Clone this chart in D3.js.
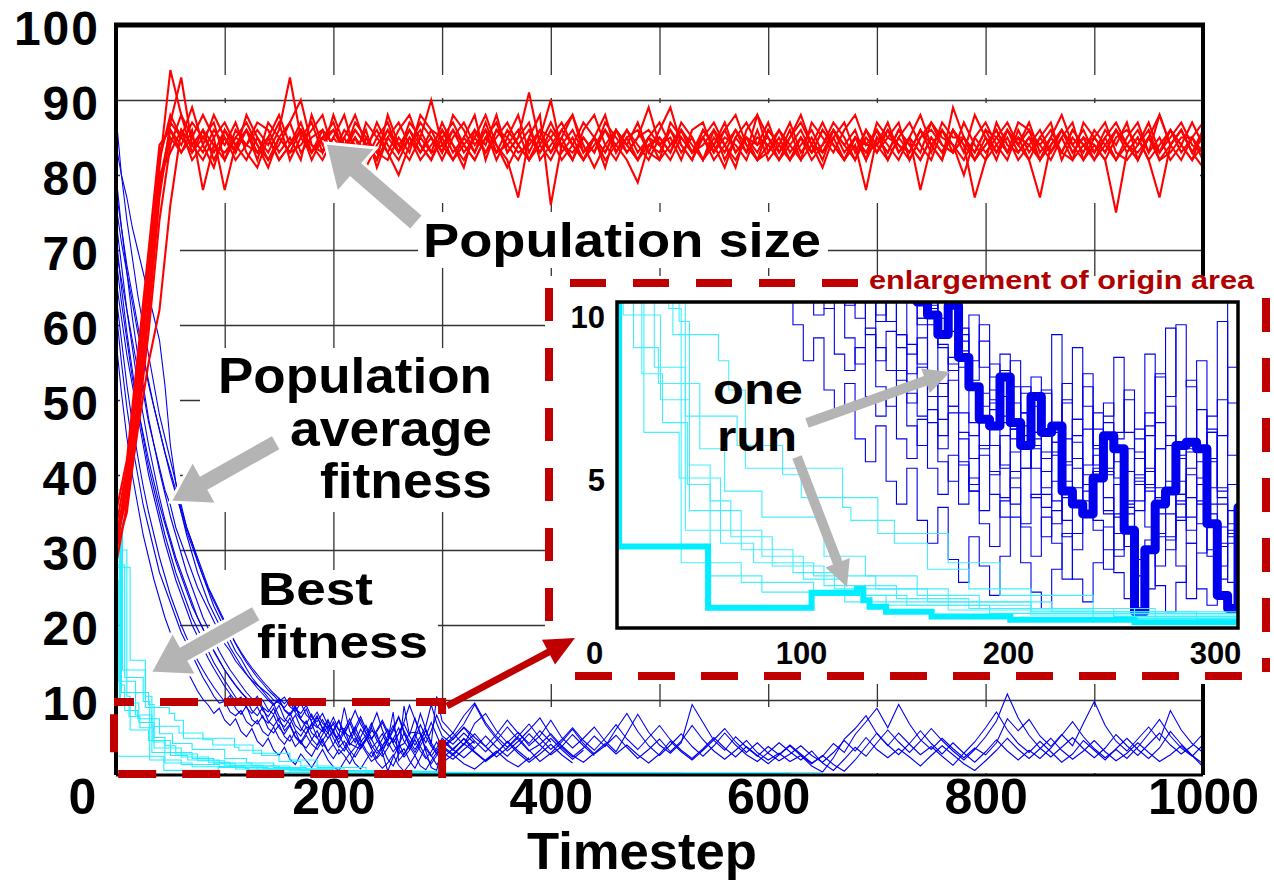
<!DOCTYPE html>
<html>
<head>
<meta charset="utf-8">
<script src="https://cdn.jsdelivr.net/npm/d3@7"></script>
<style>
body { margin: 0; background: #fff; }
svg { display: block; font-family: "Liberation Sans", Arial, Helvetica, sans-serif; font-weight: bold; }
</style>
</head>
<body>
<script>
var width = 1274, height = 884;

// sampling grids (timesteps)
var redSteps = d3.range(0, 1001, 10);
var blueSteps = d3.range(0, 300, 5).concat(d3.range(300, 1001, 10));

// population size runs, every 10 steps
var red1 = [30, 39, 52, 65, 81, 94, 88, 85, 83, 86,
  84, 87, 83, 81, 85, 88, 84, 86, 82, 85,
  87, 83, 85, 81, 84, 86, 83, 87, 85, 90,
  84, 86, 83, 85, 88, 84, 81, 84, 86, 83,
  85, 87, 84, 82, 85, 83, 86, 84, 82, 85,
  87, 84, 86, 83, 85, 82, 84, 86, 83, 85,
  84, 82, 85, 87, 84, 83, 86, 84, 82, 85,
  83, 86, 84, 82, 85, 87, 84, 83, 85, 82,
  84, 86, 83, 85, 84, 82, 85, 83, 86, 84,
  82, 85, 87, 84, 83, 85, 82, 84, 86, 83, 85];
var red2 = [33, 41, 55, 68, 83, 87, 93, 84, 86, 82,
  85, 83, 86, 84, 81, 85, 87, 83, 85, 86,
  82, 85, 88, 84, 86, 83, 80, 84, 87, 85,
  83, 86, 84, 82, 85, 87, 83, 85, 91, 84,
  82, 85, 88, 84, 81, 84, 86, 83, 85, 89,
  84, 82, 85, 83, 86, 84, 81, 85, 83, 88,
  85, 83, 86, 82, 84, 87, 84, 82, 85, 83,
  86, 84, 82, 85, 83, 87, 85, 84, 82, 85,
  83, 85, 87, 84, 86, 82, 85, 83, 86, 84,
  85, 83, 86, 84, 82, 85, 83, 86, 84, 82, 84];
var red3 = [28, 36, 48, 62, 79, 86, 84, 87, 85, 83,
  86, 84, 82, 85, 83, 86, 93, 85, 83, 86,
  84, 82, 85, 83, 87, 84, 82, 85, 83, 86,
  85, 82, 84, 86, 83, 85, 87, 84, 82, 85,
  90, 83, 85, 82, 84, 86, 83, 85, 82, 84,
  83, 86, 84, 82, 85, 83, 86, 88, 84, 82,
  86, 84, 82, 85, 83, 86, 84, 82, 85, 84,
  84, 82, 85, 83, 86, 84, 82, 89, 85, 83,
  86, 83, 85, 82, 84, 86, 83, 85, 82, 84,
  83, 85, 82, 84, 86, 83, 88, 84, 82, 85, 83];
var red4 = [31, 37, 50, 63, 78, 85, 83, 86, 78, 84,
  82, 86, 84, 83, 85, 82, 84, 86, 83, 85,
  86, 84, 81, 85, 83, 86, 84, 82, 85, 83,
  84, 82, 85, 83, 86, 84, 82, 77, 85, 83,
  86, 84, 82, 85, 83, 86, 84, 82, 79, 84,
  85, 83, 86, 84, 82, 85, 83, 86, 84, 82,
  83, 85, 82, 84, 86, 83, 85, 82, 84, 78,
  85, 83, 86, 84, 82, 85, 83, 86, 84, 77,
  82, 84, 86, 83, 85, 82, 84, 86, 83, 85,
  84, 82, 75, 83, 85, 82, 84, 86, 83, 85, 82];
var red5 = [34, 36, 46, 55, 62, 76, 86, 84, 82, 85,
  78, 84, 86, 83, 85, 82, 84, 87, 83, 85,
  83, 86, 84, 82, 85, 87, 83, 85, 82, 84,
  86, 84, 82, 85, 83, 86, 84, 82, 85, 88,
  76, 84, 86, 83, 85, 82, 84, 86, 83, 85,
  82, 84, 86, 83, 85, 87, 84, 82, 85, 83,
  86, 84, 82, 85, 83, 86, 84, 82, 85, 83,
  84, 86, 83, 85, 78, 84, 86, 83, 85, 82,
  84, 86, 83, 85, 82, 77, 84, 86, 83, 85,
  82, 84, 86, 83, 85, 82, 77, 84, 86, 83, 81];
var red6 = [29, 40, 53, 66, 82, 88, 85, 83, 86, 84,
  83, 85, 87, 84, 82, 85, 83, 86, 84, 82,
  85, 83, 86, 84, 82, 85, 83, 86, 84, 82,
  85, 87, 84, 82, 85, 83, 86, 84, 82, 85,
  83, 86, 84, 82, 85, 83, 86, 84, 82, 85,
  84, 86, 83, 85, 82, 84, 86, 83, 85, 82,
  84, 86, 83, 85, 82, 84, 86, 83, 85, 82,
  85, 83, 86, 84, 82, 85, 83, 86, 84, 82,
  85, 83, 86, 84, 82, 85, 83, 86, 84, 82,
  85, 83, 86, 84, 82, 85, 83, 86, 84, 82, 86];
var red7 = [32, 38, 49, 61, 77, 87, 85, 89, 84, 81,
  86, 83, 88, 85, 82, 84, 87, 90, 84, 83,
  85, 88, 83, 86, 81, 85, 87, 84, 86, 83,
  87, 84, 81, 86, 84, 88, 83, 85, 87, 82,
  84, 86, 88, 83, 85, 81, 86, 84, 87, 83,
  86, 89, 84, 82, 86, 84, 87, 83, 85, 84,
  87, 83, 85, 88, 84, 81, 85, 87, 83, 86,
  84, 87, 83, 85, 88, 84, 82, 86, 83, 88,
  85, 82, 86, 84, 87, 83, 85, 88, 84, 86,
  83, 86, 84, 87, 82, 85, 88, 84, 86, 83, 86];
var red8 = [30, 35, 47, 59, 74, 84, 88, 83, 85, 87,
  82, 85, 84, 87, 86, 83, 85, 82, 88, 84,
  86, 83, 87, 85, 82, 88, 84, 86, 83, 85,
  82, 85, 87, 84, 86, 82, 85, 88, 83, 86,
  85, 82, 84, 87, 85, 88, 83, 86, 84, 82,
  85, 83, 87, 85, 82, 86, 84, 81, 86, 88,
  83, 86, 84, 82, 87, 85, 83, 86, 88, 84,
  86, 82, 85, 87, 84, 82, 86, 84, 80, 85,
  87, 84, 82, 86, 83, 85, 87, 82, 85, 83,
  86, 84, 82, 85, 87, 83, 85, 82, 84, 87, 84];
var red9 = [35, 42, 56, 70, 84, 86, 83, 85, 88, 85,
  87, 84, 86, 82, 87, 85, 83, 84, 86, 88,
  83, 85, 82, 87, 85, 83, 86, 88, 84, 82,
  86, 83, 85, 88, 82, 86, 85, 83, 84, 86,
  83, 85, 82, 86, 88, 84, 82, 85, 86, 83,
  82, 87, 85, 83, 84, 86, 82, 85, 87, 84,
  85, 82, 84, 86, 83, 84, 87, 85, 82, 86,
  83, 85, 87, 82, 85, 86, 84, 83, 87, 84,
  82, 87, 84, 83, 85, 84, 86, 83, 82, 87,
  85, 87, 83, 82, 84, 87, 83, 85, 87, 84, 83];
var red10 = [31, 40, 54, 67, 80, 83, 86, 82, 84, 88,
  85, 82, 84, 86, 84, 87, 82, 85, 87, 83,
  88, 84, 86, 84, 83, 82, 85, 83, 88, 86,
  83, 88, 86, 83, 87, 83, 84, 86, 82, 84,
  87, 84, 83, 85, 83, 87, 85, 83, 85, 86,
  84, 85, 82, 86, 87, 83, 85, 84, 82, 86,
  82, 84, 87, 83, 85, 82, 86, 84, 86, 82,
  87, 85, 84, 83, 86, 83, 87, 85, 85, 83,
  86, 85, 83, 87, 86, 84, 82, 85, 87, 82,
  84, 82, 85, 86, 84, 86, 82, 83, 85, 85, 87];

// population average fitness runs: every 5 steps to 300, then every 10
var blueOne = [70, 66, 62, 58, 54, 51, 47, 44, 41, 38,
  36, 33, 31, 29, 27, 25, 23.5, 22, 20.5, 19,
  17.5, 16.5, 15.2, 14.3, 13.4, 12.6, 12.0, 11.4, 10.8, 10.0,
  9.6, 9.0, 9.9, 8.3, 7.4, 6.4, 6.2, 7.7, 6.3, 5.6,
  7.1, 6.0, 6.2, 4.2, 3.8, 3.5, 4.6, 5.9, 5.5, 3.0,
  0.5, 2.4, 3.8, 4.2, 5.6, 5.7, 5.5, 3.2, 1.0, 0.6,
  3.7,
  2.6, 4.1, 5.5, 3.8, 2.4, 3.6, 5.0, 3.3, 1.8, 2.9,
  4.4, 6.1, 4.2, 2.8, 3.9, 5.3, 3.7, 2.2, 3.4, 4.8,
  3.1, 4.5, 6.6, 4.7, 3.2, 2.1, 3.3, 4.6, 3.0, 2.0,
  2.9, 1.8, 2.6, 1.2, 0.4, 2.3, 4.8, 6.2, 7.9, 5.5,
  3.9, 5.6, 4.1, 2.7, 3.8, 2.5, 1.3, 2.9, 4.4, 6.3,
  8.4, 6.0, 4.2, 3.0, 4.5, 3.1, 1.7, 2.8, 4.6, 3.3,
  2.0, 3.5, 4.9, 3.4, 2.2, 3.6, 5.8, 4.1, 2.6, 1.5];
var blue1 = [62, 55, 49, 44, 40, 36, 33, 30, 27, 25,
  23, 21, 19, 17.5, 16, 14.5, 13, 11.8, 10.5, 9.6,
  9.8, 8.4, 7.9, 8.6, 7.1, 6.5, 7.3, 5.8, 5.2, 6.4,
  4.9, 4.1, 5.3, 3.8, 4.6, 3.2, 2.5, 3.9, 4.8, 3.1,
  2.2, 3.4, 2.6, 1.5, 2.9, 4.2, 3.0, 1.8, 2.4, 3.7,
  2.1, 1.2, 2.8, 3.5, 1.9, 0.9, 2.3, 3.8, 2.6, 1.4,
  2.2,
  3.5, 4.8, 3.1, 1.9, 3.0, 4.4, 2.9, 1.7, 2.8, 4.1, 2.7, 1.6];
var blue2 = [88, 80, 74, 69, 64, 60, 56, 52, 48, 45,
  42, 39, 36, 33, 31, 28.5, 26.5, 24.5, 22.5, 21,
  19.5, 18, 16.5, 15.5, 14.2, 13.0, 12.1, 11.2, 10.3, 9.5,
  9.9, 8.7, 8.1, 9.2, 7.6, 8.8, 7.0, 6.3, 7.4, 5.9,
  6.8, 5.2, 9.0, 5.8, 4.3, 6.1, 5.0, 3.6, 4.4, 5.5,
  3.9, 4.8, 6.3, 4.5, 3.4, 4.9, 6.7, 5.1, 3.8, 2.9,
  4.2,
  5.6, 4.0, 6.9, 8.2, 5.9, 4.3, 5.7, 3.9, 5.2, 7.3,
  5.0, 3.6, 4.9, 6.4, 4.5, 3.1, 5.6, 8.1, 5.7, 4.0,
  2.9, 4.3, 9.4, 7.0, 4.6, 3.3, 5.1, 3.7, 2.5, 3.8,
  2.7, 4.0, 2.8, 1.6, 2.5, 4.2, 3.0, 5.4, 7.1, 8.9,
  6.3, 9.4, 6.8, 4.7, 3.4, 4.9, 3.5, 2.3, 3.6, 2.7,
  4.3, 7.5, 5.9, 7.4, 5.2, 3.8, 5.4, 3.9, 6.9, 9.8,
  6.6, 4.5, 3.2, 4.8, 6.4, 4.6, 8.6, 6.0, 4.2, 3.0];
var blue3 = [72, 65, 59, 54, 49, 45, 41, 38, 35, 32,
  29.5, 27, 25, 23, 21, 19.5, 18, 16.5, 15, 13.8,
  12.6, 11.5, 10.4, 9.5, 10.1, 8.6, 7.9, 9.0, 7.2, 6.5,
  7.6, 5.9, 6.8, 5.1, 4.4, 5.6, 6.9, 5.0, 3.8, 4.9,
  6.0, 4.1, 3.2, 4.5, 5.9, 7.4, 5.6, 4.0, 2.9, 3.8,
  5.2, 6.6, 4.3, 2.7, 3.9, 5.4, 8.2, 6.1, 4.0, 2.8,
  3.5,
  4.8, 6.3, 4.5, 3.1, 4.6, 6.4, 4.7, 3.2, 4.1, 5.5,
  3.9, 2.6, 1.7, 2.9, 4.2, 2.8, 4.0, 2.7, 1.6, 2.8,
  4.5, 3.1, 2.0, 3.3, 4.7, 6.2, 4.4, 3.0, 4.3, 2.9,
  1.9, 2.8, 3.9, 2.6, 1.7, 3.0, 4.6, 3.2, 5.0, 3.4,
  2.3, 3.5, 2.4, 1.2, 2.6, 3.9, 2.7, 1.5, 0.6, 1.9,
  3.3, 4.9, 3.4, 2.2, 3.5, 4.9, 3.3, 2.1, 3.2, 4.6,
  3.1, 1.9, 2.9, 4.3, 3.0, 1.8, 2.7, 3.9, 2.6, 1.1];
var blue4 = [58, 51, 45, 40, 36, 32, 29, 26, 23.5, 21,
  19, 17.2, 15.5, 14, 12.6, 11.2, 10.1, 9.3, 8.2, 8.9,
  7.3, 6.6, 7.5, 5.8, 5.1, 6.2, 4.5, 3.8, 4.9, 3.3,
  2.6, 3.7, 2.1, 1.4, 2.8, 1.9, 1.0, 2.2, 3.4, 2.0,
  1.1, 0.6, 1.8, 2.9, 1.5, 0.8, 2.0, 3.1, 1.7, 0.9,
  1.6, 2.7, 1.3, 0.5, 1.4, 2.6, 1.2, 0.7, 1.9, 3.0,
  1.6,
  2.7, 1.5, 0.8, 2.0, 3.2, 1.9, 1.1, 2.3];
var blue5 = [80, 73, 67, 61, 56, 52, 47.5, 44, 40.5, 37.5,
  34.5, 32, 29.5, 27, 25, 23, 21, 19.5, 18, 16.5,
  15.2, 14, 13, 12, 11, 10.2, 9.4, 10.0, 8.7, 8.1,
  9.3, 7.5, 6.8, 8.0, 6.3, 5.5, 6.7, 7.9, 6.1, 4.9,
  5.8, 7.2, 5.3, 4.0, 4.9, 3.6, 4.8, 6.5, 8.3, 6.0,
  4.4, 3.1, 4.0, 5.6, 3.8, 2.6, 3.9, 5.2, 7.0, 5.3,
  3.6,
  5.1, 6.8, 9.4, 6.7, 4.8, 3.2, 4.5, 6.0, 7.6, 5.3,
  3.7, 2.4, 3.6, 5.2, 3.8, 6.1, 8.2, 5.8, 3.9, 2.6,
  4.0, 5.5, 3.8, 2.5, 3.9, 5.6, 4.0, 2.7, 1.8, 3.0,
  4.3, 3.1, 2.0, 3.2, 1.6, 0.6, 2.1, 3.7, 2.5, 4.3,
  6.0, 4.4, 3.0, 4.5, 6.2, 4.6, 3.2, 2.0, 3.4, 5.1,
  7.2, 10.8, 7.6, 5.3, 3.6, 2.4, 3.7, 5.0, 3.5, 2.3,
  3.6, 5.4, 3.9, 2.6, 4.1, 5.6, 4.0, 2.8, 3.9, 5.5];
var blue6 = [66, 61, 56, 52, 48, 44, 40, 37, 34, 31,
  28.5, 26, 24, 22, 20, 18.5, 17, 15.5, 14.2, 13,
  11.8, 10.8, 9.9, 10.4, 9.0, 8.2, 9.1, 7.6, 6.9, 8.0,
  6.3, 5.5, 6.6, 5.0, 4.2, 5.3, 4.1, 3.4, 4.6, 5.7,
  4.0, 2.8, 3.6, 5.0, 6.4, 4.7, 3.3, 2.4, 3.5, 4.8,
  6.1, 4.2, 2.9, 9.2, 5.3, 7.6, 5.4, 3.5, 2.5, 3.6,
  4.9,
  3.4, 2.3, 3.6, 5.2, 3.7, 2.5, 3.9, 5.5, 4.0, 2.7, 3.8, 5.4, 3.9, 2.6];
var blue7 = [76, 71, 67, 63, 59, 56, 52, 49, 46, 43,
  40.5, 38, 35.5, 33, 31, 29, 27, 25, 23.5, 22,
  20.5, 19, 17.5, 16.2, 15, 14, 13, 12.2, 11.3, 10.6,
  9.8, 10.4, 9.1, 8.5, 9.6, 8.0, 7.3, 8.4, 6.9, 6.2,
  7.7, 6.0, 5.4, 6.9, 8.6, 6.8, 5.5, 4.7, 6.0, 7.3,
  5.8, 4.4, 5.5, 7.1, 9.3, 7.4, 5.6, 4.3, 5.9, 8.0,
  6.2,
  4.7, 6.4, 5.0, 3.8, 5.4, 7.3, 5.6, 4.2, 5.9, 4.4];
var blue8 = [69, 63, 58, 53, 49, 45.5, 42, 39, 36, 33.5,
  31, 28.5, 26.5, 24.5, 22.5, 21, 19.5, 18, 16.6, 15.3,
  14, 13, 12, 11.1, 10.2, 9.4, 10.1, 8.6, 7.8, 8.9,
  7.1, 6.4, 7.6, 6.0, 5.2, 6.4, 4.8, 4.0, 5.4, 6.6,
  4.9, 3.7, 4.5, 3.3, 2.4, 3.6, 4.9, 3.5, 2.2, 3.1,
  4.6, 8.4, 1.9, 2.8, 4.1, 5.5, 3.8, 2.4, 1.5, 2.6,
  3.9,
  2.8, 4.2, 3.0, 1.8, 2.9, 4.5, 3.2, 2.0, 3.3, 4.9, 3.4, 2.1, 3.3];
var blue9 = [84, 80, 77, 73, 70, 67, 64, 61, 58, 52,
  44, 39, 35, 32, 29.5, 27, 25, 23, 21.5, 20,
  18.5, 17, 15.8, 14.6, 13.5, 12.5, 11.6, 10.8, 10.0, 9.3,
  10.2, 8.6, 7.9, 9.0, 7.4, 6.8, 8.1, 6.5, 5.8, 7.2,
  5.6, 4.8, 6.0, 7.5, 5.7, 4.4, 5.3, 6.9, 5.1, 3.9,
  4.7, 6.2, 7.8, 5.9, 4.5, 3.4, 4.6, 6.0, 4.2, 10.5,
  7.2,
  5.6, 7.9, 9.6, 7.0, 5.1, 3.7, 5.2, 6.8, 4.9, 3.4,
  4.7, 6.3, 4.6, 3.3, 4.9, 6.7, 4.8, 3.4, 5.0, 6.6,
  4.7, 3.3, 2.2, 3.5, 5.0, 3.6, 2.4, 3.8, 2.6, 1.5,
  2.7, 3.9, 2.6, 1.5, 2.6, 1.4, 0.5, 2.0, 3.8, 5.6,
  4.0, 2.7, 4.2, 5.9, 4.2, 2.8, 4.3, 2.9, 1.7, 3.1,
  4.7, 3.2, 2.0, 3.3, 2.2, 3.6, 5.3, 7.1, 5.1, 3.5,
  2.3, 3.4, 2.2, 3.7, 5.5, 7.4, 5.2, 3.6, 2.5, 4.0];
var blue10 = [74, 68, 62, 57, 52, 48, 44, 40.5, 37, 34,
  31.5, 29, 27, 25, 23, 21, 19.5, 18, 16.5, 15.2,
  14, 12.9, 11.9, 11, 10.3, 9.6, 10.5, 9.0, 8.4, 9.5,
  7.8, 7.1, 8.3, 6.6, 5.9, 7.2, 5.6, 4.9, 6.1, 7.4,
  5.5, 4.3, 5.7, 7.0, 5.2, 3.9, 4.8, 6.3, 4.6, 3.5,
  4.5, 5.9, 7.7, 5.6, 4.1, 3.0, 4.4, 6.0, 4.3, 3.2,
  4.6,
  3.3, 4.9, 3.5];
var blue11 = [64, 58, 52, 47, 42.5, 38.5, 35, 32, 29, 26.5,
  24, 22, 20, 18.3, 16.8, 15.3, 14, 12.8, 11.7, 10.7,
  9.8, 10.6, 8.9, 8.1, 9.2, 7.4, 6.8, 7.9, 6.2, 5.6,
  6.7, 5.1, 4.5, 5.8, 4.2, 3.6, 4.7, 5.9, 4.3, 3.2,
  4.1, 5.4, 3.9, 2.8, 3.7, 5.0, 6.6, 4.8, 3.4, 2.5,
  3.6, 4.9, 3.5, 2.4, 3.3, 4.7, 3.2, 2.2, 3.1, 4.4,
  3.0,
  2.1, 3.4, 4.6];
var blue12 = [78, 73, 68, 64, 60, 56, 52.5, 49, 46, 43,
  40, 37.5, 35, 32.5, 30.5, 28.5, 26.5, 24.8, 23.2, 21.7,
  20.2, 18.9, 17.6, 16.4, 15.3, 14.3, 13.4, 12.5, 11.7, 10.9,
  10.2, 9.5, 10.3, 8.8, 8.2, 9.3, 7.7, 7.1, 8.2, 6.6,
  6.0, 7.3, 5.7, 5.1, 6.4, 7.8, 6.1, 4.9, 5.8, 7.0,
  5.4, 4.3, 5.5, 6.8, 5.2, 4.0, 5.1, 6.5, 9.4, 6.9,
  5.2,
  4.1, 5.6, 4.2];

// best fitness runs: [timestep, value] at each change (step curves)
var cyanOne = [[0, 24], [1, 2.5], [44, 0.62], [94, 1.08], [116, 1.2], [119, 0.85], [122, 0.65], [130, 0.5], [152, 0.35], [190, 0.25], [250, 0.18], [330, 0.1], [560, 0.05]];
var cyan1 = [[0, 41], [1, 27.7], [13, 15.3], [27, 9.0], [49, 8.2], [54, 7.3], [62, 4.9], [109, 3.7], [113, 3.3], [134, 2.6], [150, 1.8], [170, 1.2], [200, 0.6], [240, 0.35], [320, 0.2], [620, 0.1]];
var cyan2 = [[0, 38], [6, 14], [27, 10.5], [33, 6.5], [58, 5.6], [80, 4.7], [89, 4.0], [126, 2.9], [160, 2.0], [185, 1.0], [230, 0.45], [300, 0.25], [500, 0.1]];
var cyan3 = [[0, 35], [4, 12], [8, 8.6], [20, 7.5], [40, 5.5], [52, 4.2], [70, 3.4], [100, 2.2], [120, 1.6], [145, 1.0], [175, 0.6], [250, 0.3], [420, 0.1]];
var cyan4 = [[0, 30], [10, 10.5], [13, 6.0], [30, 4.6], [50, 3.0], [70, 2.2], [90, 1.5], [110, 1.0], [140, 0.7], [200, 0.4], [300, 0.2], [450, 0.1]];
var cyan5 = [[0, 33], [3, 9.6], [21, 7.0], [35, 5.0], [45, 3.9], [55, 2.8], [75, 1.9], [100, 1.3], [135, 0.9], [170, 0.6], [260, 0.3], [380, 0.12]];
var cyan6 = [[0, 36], [5, 11], [30, 9.4], [35, 3.6], [60, 2.4], [85, 1.7], [105, 1.2], [150, 0.8], [210, 0.5], [280, 0.25], [520, 0.1]];
var cyan7 = [[0, 28], [8, 13], [25, 9.8], [31, 2.0], [60, 1.4], [95, 1.0], [130, 0.7], [180, 0.45], [240, 0.3], [350, 0.15], [600, 0.08]];
var cyan8 = [[0, 32], [4, 10.2], [12, 7.8], [22, 6.3], [34, 4.4], [45, 1.6], [70, 1.1], [110, 0.8], [160, 0.55], [230, 0.3], [330, 0.15], [480, 0.08]];
var cyan9 = [[0, 26], [2, 12.5], [18, 8.0], [33, 3.0], [50, 2.6], [66, 2.0], [95, 1.6], [125, 1.2], [160, 0.8], [200, 0.5], [300, 0.3], [650, 0.1]];

// tick labels
var xTicks = [0, 200, 400, 600, 800, 1000];
var yTicks = [10, 20, 30, 40, 50, 60, 70, 80, 90, 100];
var gridX = [100, 200, 300, 400, 500, 600, 700, 800, 900];
var gridY = [10, 20, 30, 40, 50, 60, 70, 80, 90];
var insetXTicks = [0, 100, 200, 300];
var insetYTicks = [5, 10];

var redRuns = [red1, red2, red3, red4, red5, red6, red7, red8, red9, red10];
var blueRuns = [blue1, blue2, blue3, blue4, blue5, blue6, blue7, blue8, blue9, blue10, blue11, blue12];
var cyanRuns = [cyan1, cyan2, cyan3, cyan4, cyan5, cyan6, cyan7, cyan8, cyan9];

function series(steps, vals) {
  return vals.map(function(v, i) { return [steps[i], v]; });
}

var svg = d3.select("body").append("svg")
  .attr("width", width)
  .attr("height", height);

var x = d3.scaleLinear().domain([0, 1000]).range([116, 1203]);
var y = d3.scaleLinear().domain([0, 100]).range([775, 25]);

// grid
svg.append("g")
  .attr("transform", "translate(0," + y(0) + ")")
  .call(d3.axisBottom(x).tickValues(gridX).tickSize(-(y(0) - y(100))).tickFormat(""))
  .call(function(g) { g.select(".domain").remove(); g.selectAll("line").attr("stroke", "#333").attr("stroke-width", 1.3); });
svg.append("g")
  .attr("transform", "translate(" + x(0) + ",0)")
  .call(d3.axisLeft(y).tickValues(gridY).tickSize(-(x(1000) - x(0))).tickFormat(""))
  .call(function(g) { g.select(".domain").remove(); g.selectAll("line").attr("stroke", "#333").attr("stroke-width", 1.3); });

// white patches that hide the grid as in the original figure
var masks = [[120, 75, 1080, 23], [120, 103, 1080, 100], [120, 203, 60, 500], [120, 707, 1080, 66],
  [418, 212, 410, 56], [200, 348, 348, 164], [210, 570, 228, 100]];
svg.append("g").selectAll("rect").data(masks).enter().append("rect")
  .attr("x", function(d) { return d[0]; })
  .attr("y", function(d) { return d[1]; })
  .attr("width", function(d) { return d[2]; })
  .attr("height", function(d) { return d[3]; })
  .attr("fill", "#fff");

var defs = svg.append("defs");
defs.append("clipPath").attr("id", "mainClip").append("rect")
  .attr("x", x(0)).attr("y", y(100)).attr("width", x(1000) - x(0)).attr("height", y(0) - y(100));

var line = d3.line().x(function(d) { return x(d[0]); }).y(function(d) { return y(d[1]); });
var stepLine = d3.line().curve(d3.curveStepAfter).x(function(d) { return x(d[0]); }).y(function(d) { return y(d[1]); });

var plot = svg.append("g").attr("clip-path", "url(#mainClip)");

plot.selectAll(".blue").data(blueRuns.concat([blueOne])).enter().append("path")
  .attr("d", function(d) { return line(series(blueSteps, d)); })
  .attr("fill", "none").attr("stroke", "#0000ee").attr("stroke-width", 1.1);

plot.selectAll(".cyan").data(cyanRuns.concat([cyanOne])).enter().append("path")
  .attr("d", function(d) { return stepLine(d); })
  .attr("fill", "none").attr("stroke", "#22eeff").attr("stroke-width", 1.1);

plot.selectAll(".red").data(redRuns).enter().append("path")
  .attr("d", function(d) { return line(series(redSteps, d)); })
  .attr("fill", "none").attr("stroke", "#ff0000").attr("stroke-width", 2.1);

// frame
var frame = svg.append("g").attr("stroke", "#000").attr("fill", "none");
frame.append("line").attr("x1", x(0) - 2).attr("x2", x(1000) + 2).attr("y1", y(100)).attr("y2", y(100)).attr("stroke-width", 5);
frame.append("line").attr("x1", x(0)).attr("x2", x(0)).attr("y1", y(100)).attr("y2", y(0)).attr("stroke-width", 4);
frame.append("line").attr("x1", x(1000)).attr("x2", x(1000)).attr("y1", y(100)).attr("y2", y(0)).attr("stroke-width", 4);
frame.append("line").attr("x1", x(0)).attr("x2", x(1000)).attr("y1", y(0)).attr("y2", y(0)).attr("stroke-width", 3);

// axes labels
var yAxis = svg.append("g")
  .attr("transform", "translate(" + x(0) + ",4)")
  .call(d3.axisLeft(y).tickValues(yTicks).tickSize(0).tickPadding(16));
yAxis.select(".domain").remove();
yAxis.attr("font-family", null).attr("font-size", 48).style("letter-spacing", "2px");

var xAxis = svg.append("g")
  .attr("transform", "translate(0," + y(0) + ")")
  .call(d3.axisBottom(x).tickValues(xTicks).tickFormat(d3.format("d")).tickSize(0).tickPadding(3));
xAxis.select(".domain").remove();
xAxis.attr("font-family", null).attr("font-size", 50);
xAxis.selectAll(".tick").filter(function(d) { return d === 0; }).select("text").attr("dx", -34);

svg.append("text").attr("x", 642).attr("y", 869).attr("text-anchor", "middle")
  .attr("font-size", 52).attr("textLength", 230).attr("lengthAdjust", "spacingAndGlyphs").text("Timestep");

// dashed box around origin area
var darkRed = "#c00000";
svg.append("path")
  .attr("d", "M" + (x(0) - 2) + "," + (y(10) + 2) + "H" + x(300) + "V" + (y(0) - 1) + "H" + (x(0) - 2) + "Z")
  .attr("fill", "none").attr("stroke", darkRed).attr("stroke-width", 8)
  .attr("stroke-dasharray", "38,26").attr("stroke-dashoffset", 18);

// ---- inset ----
var xi = d3.scaleLinear().domain([0, 300]).range([617, 1238]);
var yi = d3.scaleLinear().domain([0, 10]).range([628, 302]);

svg.append("rect").attr("x", 545).attr("y", 276).attr("width", 729).attr("height", 408).attr("fill", "#fff");

var dash = svg.append("g").attr("stroke", darkRed).attr("stroke-width", 8).attr("fill", "none");
dash.append("line").attr("x1", 570).attr("x2", 860).attr("y1", 283).attr("y2", 283).attr("stroke-dasharray", "36,27");
dash.append("line").attr("x1", 549).attr("x2", 549).attr("y1", 288).attr("y2", 622).attr("stroke-dasharray", "33,27");
dash.append("line").attr("x1", 575).attr("x2", 1250).attr("y1", 676).attr("y2", 676).attr("stroke-dasharray", "37,26");
dash.append("line").attr("x1", 1266).attr("x2", 1266).attr("y1", 298).attr("y2", 672).attr("stroke-dasharray", "34,26");

svg.append("text").attr("x", 869).attr("y", 289).attr("fill", "#b00000")
  .attr("font-size", 26).attr("textLength", 385).attr("lengthAdjust", "spacingAndGlyphs")
  .text("enlargement of origin area");

defs.append("clipPath").attr("id", "insetClip").append("rect")
  .attr("x", xi(0)).attr("y", yi(10)).attr("width", xi(300) - xi(0)).attr("height", yi(0) - yi(10));

var stepI = d3.line().curve(d3.curveStepAfter).x(function(d) { return xi(d[0]); }).y(function(d) { return yi(d[1]); });

var inset = svg.append("g").attr("clip-path", "url(#insetClip)");
inset.selectAll(".blue").data(blueRuns).enter().append("path")
  .attr("d", function(d) { return stepI(series(blueSteps, d)); })
  .attr("fill", "none").attr("stroke", "#0000ee").attr("stroke-width", 1.1);
inset.append("path").attr("d", stepI(series(blueSteps, blueOne)))
  .attr("fill", "none").attr("stroke", "#0000ee").attr("stroke-width", 9).attr("stroke-linejoin", "round");
inset.selectAll(".cyan").data(cyanRuns).enter().append("path")
  .attr("d", function(d) { return stepI(d); })
  .attr("fill", "none").attr("stroke", "#44eeff").attr("stroke-width", 1.1);
inset.append("path").attr("d", stepI(cyanOne))
  .attr("fill", "none").attr("stroke", "#00eeff").attr("stroke-width", 6);

svg.append("rect").attr("x", xi(0)).attr("y", yi(10)).attr("width", xi(300) - xi(0)).attr("height", yi(0) - yi(10))
  .attr("fill", "none").attr("stroke", "#000").attr("stroke-width", 3.5);

var xiAxis = svg.append("g")
  .attr("transform", "translate(-23," + yi(0) + ")")
  .call(d3.axisBottom(xi).tickValues(insetXTicks).tickSize(0).tickPadding(14));
xiAxis.select(".domain").remove();
xiAxis.attr("font-family", null).attr("font-size", 31);

var yiAxis = svg.append("g")
  .attr("transform", "translate(" + xi(0) + ",16)")
  .call(d3.axisLeft(yi).tickValues(insetYTicks).tickSize(0).tickPadding(12));
yiAxis.select(".domain").remove();
yiAxis.attr("font-family", null).attr("font-size", 31);

// ---- annotations ----
function arrow(x1, y1, x2, y2, shaft, headW, headL, fill, stroke) {
  var dx = x2 - x1, dy = y2 - y1, L = Math.sqrt(dx * dx + dy * dy);
  var ux = dx / L, uy = dy / L, px = -uy, py = ux;
  var bx = x2 - ux * headL, by = y2 - uy * headL;
  var pts = [
    [x1 + px * shaft / 2, y1 + py * shaft / 2],
    [bx + px * shaft / 2, by + py * shaft / 2],
    [bx + px * headW / 2, by + py * headW / 2],
    [x2, y2],
    [bx - px * headW / 2, by - py * headW / 2],
    [bx - px * shaft / 2, by - py * shaft / 2],
    [x1 - px * shaft / 2, y1 - py * shaft / 2]];
  svg.append("polygon")
    .attr("points", pts.map(function(p) { return p.join(","); }).join(" "))
    .attr("fill", fill)
    .attr("stroke", stroke || "none")
    .attr("stroke-width", stroke ? 3 : 0);
}

var gray = "#b4b4b4";
arrow(417, 223, 325, 143, 20, 60, 42, gray, "#fff");
arrow(277, 442, 170, 502, 18, 50, 40, gray, "#fff");
arrow(257, 613, 150, 673, 18, 50, 40, gray, "#fff");
arrow(807, 423, 950, 372, 10, 26, 26, gray, null);
arrow(797, 457, 847, 587, 10, 26, 26, gray, null);
arrow(447, 706, 575, 638, 7, 28, 30, darkRed, null);

function label(txt, x0, y0, size, len) {
  svg.append("text").attr("x", x0).attr("y", y0).attr("font-size", size)
    .attr("textLength", len).attr("lengthAdjust", "spacingAndGlyphs").text(txt);
}
label("Population size", 423, 257, 48, 398);
label("Population", 218, 393, 50, 274);
label("average", 290, 446, 50, 202);
label("fitness", 320, 498, 50, 172);
label("Best", 258, 605, 47, 115);
label("fitness", 257, 658, 47, 171);
label("one", 713, 404, 42, 90);
label("run", 717, 451, 42, 80);
</script>
</body>
</html>
